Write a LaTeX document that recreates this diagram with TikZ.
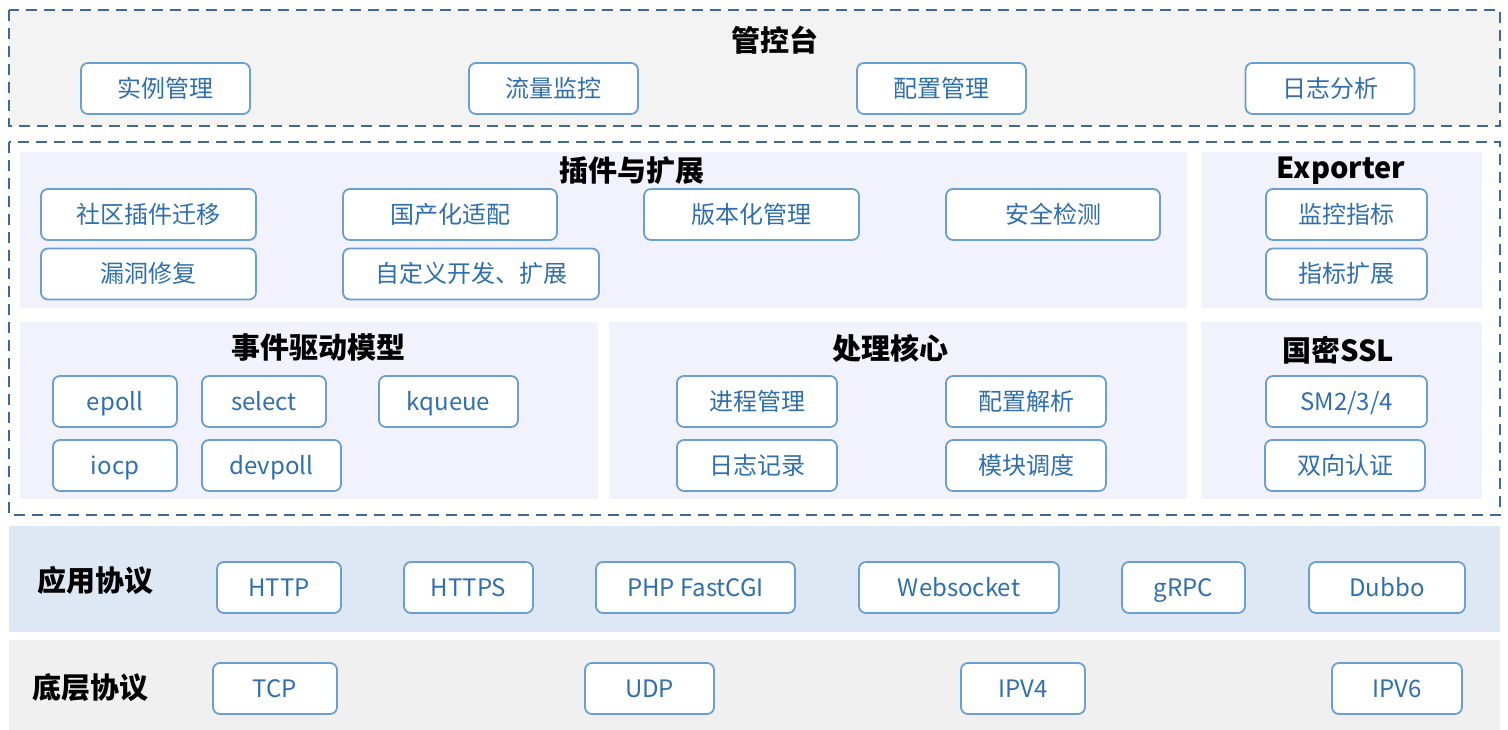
\documentclass[tikz,border=0pt]{standalone}
\usepackage{fontspec}
\setmainfont{Noto Sans CJK SC}
\definecolor{boxline}{HTML}{6A9FD4}
\definecolor{boxtext}{HTML}{2F6FB0}
\definecolor{dashline}{HTML}{41689A}
\definecolor{panel}{HTML}{F1F2FC}
\definecolor{bandblue}{HTML}{DEE8F4}
\definecolor{bandgray}{HTML}{F0F0F0}
\begin{document}
\begin{tikzpicture}[x=1pt, y=-1pt,
  item/.style = {draw=boxline, line width=1.8pt, rounded corners=7pt, fill=white,
    text=boxtext, font=\fontsize{24}{28}\selectfont, inner sep=0pt, minimum height=51pt,
    text height=21pt, text depth=3pt},
  title/.style = {font=\fontsize{29}{32}\selectfont\bfseries, text=black},
  group/.style = {draw=dashline, line width=2.2pt, dash pattern=on 11pt off 7pt},
  pane/.style = {fill=panel}]
\useasboundingbox (0,0) rectangle (1508,730);

% management console
\fill[bandgray!80!white] (9,10) rectangle (1500,126);
\draw[group] (9,10) rectangle (1500,126);
\node[title] (console) at (775,40) {管控台};
\node[item, minimum width=169pt] (c1) at (165.5,88.5) {实例管理};
\node[item, minimum width=169pt] (c2) at (553.5,88.5) {流量监控};
\node[item, minimum width=169pt] (c3) at (941.5,88.5) {配置管理};
\node[item, minimum width=169pt] (c4) at (1330,88.5) {日志分析};

% core
\draw[group] (9,142) rectangle (1500,515);
\fill[pane] (20,152) rectangle (1187,308);
\fill[pane] (1201,152) rectangle (1482,308);
\fill[pane] (20,322) rectangle (598,499);
\fill[pane] (609,322) rectangle (1187,499);
\fill[pane] (1201,322) rectangle (1482,499);

\node[title] (plugin) at (632,171) {插件与扩展};
\node[item, minimum width=215pt] (p1) at (148.5,214.5) {社区插件迁移};
\node[item, minimum width=214pt] (p2) at (450,214.5) {国产化适配};
\node[item, minimum width=215pt] (p3) at (751.5,214.5) {版本化管理};
\node[item, minimum width=214pt] (p4) at (1053,214.5) {安全检测};
\node[item, minimum width=215pt] (p5) at (148.5,274) {漏洞修复};
\node[item, minimum width=256pt] (p6) at (471,274) {自定义开发、扩展};

\node[title] (exporter) at (1341,171) {Exporter};
\node[item, minimum width=161pt] (e1) at (1346.5,214.5) {监控指标};
\node[item, minimum width=161pt] (e2) at (1346.5,274) {指标扩展};

\node[title] (event) at (318,348) {事件驱动模型};
\node[item, minimum width=124pt] (v1) at (115,401.5) {epoll};
\node[item, minimum width=124pt] (v2) at (264,401.5) {select};
\node[item, minimum width=139pt] (v3) at (448.5,401.5) {kqueue};
\node[item, minimum width=124pt] (v4) at (115,465.5) {iocp};
\node[item, minimum width=139pt] (v5) at (271.5,465.5) {devpoll};

\node[title] (kernel) at (890,348) {处理核心};
\node[item, minimum width=160pt] (k1) at (757,401.5) {进程管理};
\node[item, minimum width=160pt] (k2) at (1026,401.5) {配置解析};
\node[item, minimum width=160pt] (k3) at (757,465.5) {日志记录};
\node[item, minimum width=160pt] (k4) at (1026,465.5) {模块调度};

\node[title] (ssl) at (1338,350) {国密SSL};
\node[item, minimum width=161pt] (s1) at (1346.5,401.5) {SM2/3/4};
\node[item, minimum width=160pt] (s2) at (1345,465.5) {双向认证};

% application protocols
\fill[bandblue] (9,526) rectangle (1500,632);
\node[title] (app) at (95,580) {应用协议};
\node[item, minimum width=124pt] (a1) at (279,587.5) {HTTP};
\node[item, minimum width=129pt] (a2) at (468.5,587.5) {HTTPS};
\node[item, minimum width=199pt] (a3) at (695.5,587.5) {PHP FastCGI};
\node[item, minimum width=200pt] (a4) at (959,587.5) {Websocket};
\node[item, minimum width=123pt] (a5) at (1183.5,587.5) {gRPC};
\node[item, minimum width=156pt] (a6) at (1387,587.5) {Dubbo};

% base protocols
\fill[bandgray] (9,640) rectangle (1500,730);
\node[title] (base) at (90,688) {底层协议};
\node[item, minimum width=124pt] (b1) at (275,688.5) {TCP};
\node[item, minimum width=129pt] (b2) at (649.5,688.5) {UDP};
\node[item, minimum width=124pt] (b3) at (1023,688.5) {IPV4};
\node[item, minimum width=130pt] (b4) at (1397,688.5) {IPV6};
\end{tikzpicture}
\end{document}
